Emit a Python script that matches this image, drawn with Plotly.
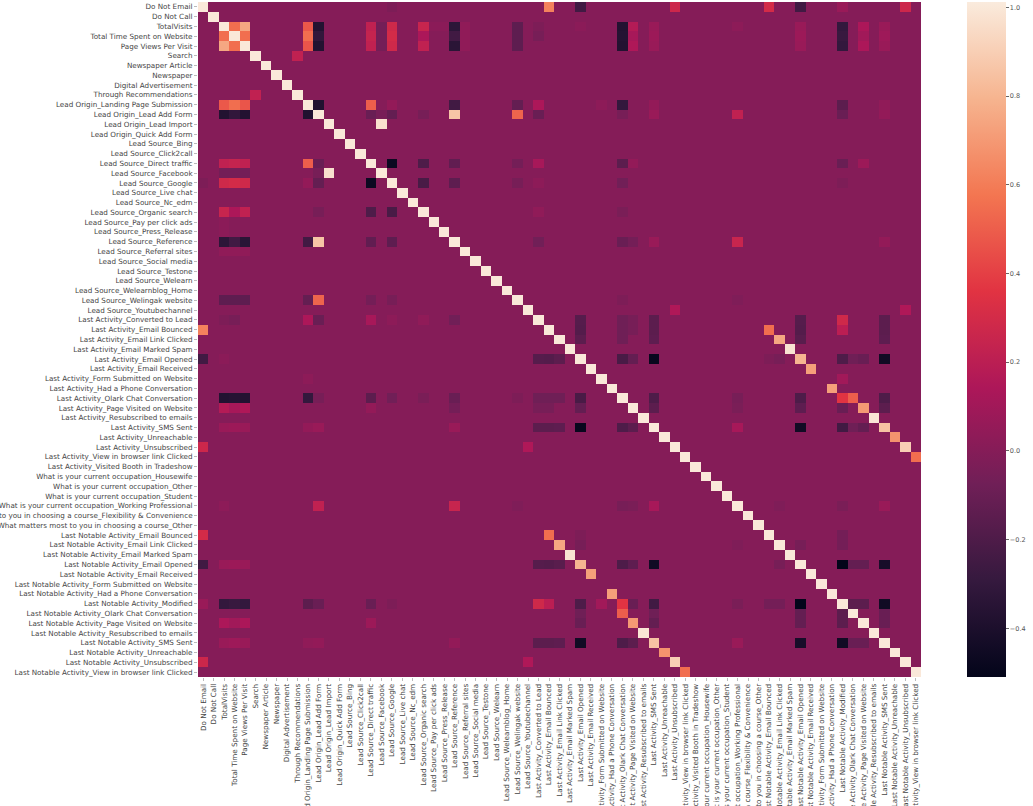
import numpy as np
import plotly.graph_objects as go

labels = [
    "Do Not Email", "Do Not Call", "TotalVisits", "Total Time Spent on Website", "Page Views Per Visit",
    "Search", "Newspaper Article", "Newspaper", "Digital Advertisement", "Through Recommendations",
    "Lead Origin_Landing Page Submission", "Lead Origin_Lead Add Form", "Lead Origin_Lead Import",
    "Lead Origin_Quick Add Form", "Lead Source_Bing", "Lead Source_Click2call", "Lead Source_Direct traffic",
    "Lead Source_Facebook", "Lead Source_Google", "Lead Source_Live chat", "Lead Source_Nc_edm",
    "Lead Source_Organic search", "Lead Source_Pay per click ads", "Lead Source_Press_Release",
    "Lead Source_Reference", "Lead Source_Referral sites", "Lead Source_Social media", "Lead Source_Testone",
    "Lead Source_Welearn", "Lead Source_Welearnblog_Home", "Lead Source_Welingak website",
    "Lead Source_Youtubechannel", "Last Activity_Converted to Lead", "Last Activity_Email Bounced",
    "Last Activity_Email Link Clicked", "Last Activity_Email Marked Spam", "Last Activity_Email Opened",
    "Last Activity_Email Received", "Last Activity_Form Submitted on Website",
    "Last Activity_Had a Phone Conversation", "Last Activity_Olark Chat Conversation",
    "Last Activity_Page Visited on Website", "Last Activity_Resubscribed to emails", "Last Activity_SMS Sent",
    "Last Activity_Unreachable", "Last Activity_Unsubscribed", "Last Activity_View in browser link Clicked",
    "Last Activity_Visited Booth in Tradeshow", "What is your current occupation_Housewife",
    "What is your current occupation_Other", "What is your current occupation_Student",
    "What is your current occupation_Working Professional",
    "What matters most to you in choosing a course_Flexibility & Convenience",
    "What matters most to you in choosing a course_Other", "Last Notable Activity_Email Bounced",
    "Last Notable Activity_Email Link Clicked", "Last Notable Activity_Email Marked Spam",
    "Last Notable Activity_Email Opened", "Last Notable Activity_Email Received",
    "Last Notable Activity_Form Submitted on Website", "Last Notable Activity_Had a Phone Conversation",
    "Last Notable Activity_Modified", "Last Notable Activity_Olark Chat Conversation",
    "Last Notable Activity_Page Visited on Website", "Last Notable Activity_Resubscribed to emails",
    "Last Notable Activity_SMS Sent", "Last Notable Activity_Unreachable", "Last Notable Activity_Unsubscribed",
    "Last Notable Activity_View in browser link Clicked",
]

# (row, column, correlation), lower triangle only
pairs_visits = [
    (3, 2, 0.55), (4, 2, 0.75), (4, 3, 0.55), (9, 5, 0.22),
    (10, 2, 0.48), (10, 3, 0.55), (10, 4, 0.47), (11, 2, -0.37), (11, 3, -0.31), (11, 4, -0.37), (11, 10, -0.38),
    (16, 2, 0.22), (16, 3, 0.24), (16, 4, 0.22), (16, 10, 0.5), (16, 11, -0.1),
    (17, 2, -0.06), (17, 3, -0.06), (17, 4, -0.06), (17, 11, -0.05), (17, 12, 0.97),
    (18, 0, -0.03), (18, 2, 0.28), (18, 3, 0.3), (18, 4, 0.28), (18, 10, 0.05), (18, 11, -0.12), (18, 16, -0.47),
    (21, 2, 0.25), (21, 3, 0.14), (21, 4, 0.22), (21, 11, -0.05), (21, 16, -0.2), (21, 18, -0.22),
    (22, 2, 0.02), (23, 2, 0.02),
    (24, 2, -0.33), (24, 3, -0.25), (24, 4, -0.34), (24, 10, -0.25), (24, 11, 0.86), (24, 16, -0.13), (24, 18, -0.14),
    (25, 2, 0.04), (25, 3, 0.04), (25, 4, 0.04),
    (30, 2, -0.14), (30, 3, -0.14), (30, 4, -0.14), (30, 10, -0.12), (30, 11, 0.52), (30, 16, -0.06), (30, 18, -0.05),
    (32, 2, -0.03), (32, 3, -0.05), (32, 10, 0.14), (32, 11, -0.1), (32, 16, 0.12), (32, 18, 0.03), (32, 21, 0.04), (32, 24, -0.07),
    (33, 0, 0.62),
]
pairs_activity = [
    (36, 0, -0.25), (36, 2, 0.02), (36, 32, -0.17), (36, 33, -0.18), (36, 34, -0.15),
    (38, 10, 0.03),
    (40, 2, -0.37), (40, 3, -0.36), (40, 4, -0.37), (40, 10, -0.3), (40, 11, -0.05), (40, 16, -0.15), (40, 18, -0.07),
    (40, 21, -0.04), (40, 24, -0.1), (40, 30, -0.03), (40, 32, -0.08), (40, 33, -0.08), (40, 34, -0.08), (40, 36, -0.22),
    (41, 2, 0.17), (41, 3, 0.12), (41, 4, 0.15), (41, 16, 0.05), (41, 24, -0.06), (41, 32, -0.05), (41, 33, -0.05), (41, 36, -0.12),
    (43, 2, 0.07), (43, 3, 0.08), (43, 4, 0.07), (43, 10, 0.05), (43, 11, 0.07), (43, 24, 0.07), (43, 32, -0.15), (43, 33, -0.15),
    (43, 34, -0.14), (43, 36, -0.49), (43, 40, -0.2), (43, 41, -0.15),
    (45, 0, 0.27), (45, 31, 0.15),
    (51, 2, 0.03), (51, 11, 0.22), (51, 24, 0.25), (51, 30, -0.02), (51, 40, -0.05), (51, 43, 0.12), (51, 41, -0.04),
    (54, 0, 0.3), (54, 33, 0.55), (54, 36, -0.03),
    (55, 34, 0.75), (55, 36, -0.05), (55, 51, -0.02),
    (56, 35, 0.98),
    (57, 0, -0.25), (57, 2, 0.07), (57, 3, 0.08), (57, 4, 0.07), (57, 32, -0.17), (57, 33, -0.18), (57, 34, -0.16), (57, 36, 0.8),
    (57, 40, -0.2), (57, 41, -0.14), (57, 43, -0.45), (57, 55, -0.05),
    (58, 37, 0.72), (60, 39, 0.72),
]
pairs_notable = [
    (61, 0, 0.07), (61, 2, -0.3), (61, 3, -0.28), (61, 4, -0.3), (61, 10, -0.15), (61, 11, -0.1), (61, 16, -0.1), (61, 18, -0.03),
    (61, 32, 0.28), (61, 33, 0.2), (61, 36, -0.2), (61, 38, 0.1), (61, 40, 0.36), (61, 41, -0.1), (61, 43, -0.25), (61, 51, -0.04),
    (61, 54, -0.06), (61, 55, -0.06), (61, 57, -0.51),
    (62, 36, -0.08), (62, 40, 0.5), (62, 43, -0.08), (62, 57, -0.12), (62, 61, -0.15),
    (63, 2, 0.14), (63, 3, 0.1), (63, 4, 0.14), (63, 16, 0.08), (63, 36, -0.1), (63, 41, 0.7), (63, 43, -0.12), (63, 57, -0.12), (63, 61, -0.15),
    (64, 42, 0.99),
    (65, 2, 0.07), (65, 3, 0.09), (65, 4, 0.07), (65, 10, 0.04), (65, 11, 0.05), (65, 24, 0.05), (65, 32, -0.15), (65, 33, -0.15),
    (65, 34, -0.14), (65, 36, -0.45), (65, 40, -0.2), (65, 41, -0.15), (65, 43, 0.85), (65, 51, 0.07), (65, 57, -0.42), (65, 61, -0.45), (65, 62, -0.1), (65, 63, -0.1),
    (66, 44, 0.68), (67, 0, 0.27), (67, 31, 0.15), (67, 45, 0.9), (68, 46, 0.55),
]

rocket_colors = ["#03051a", "#35193e", "#701f57", "#ad1759", "#e13342", "#f37651", "#f6b48f", "#faebdd"]

n = len(labels)
corr = np.eye(n)
for r, c, v in pairs_visits + pairs_activity + pairs_notable:
    corr[r, c] = v
    corr[c, r] = v
idx = list(range(n))

fig = go.Figure(go.Heatmap(
    z=corr, x=idx, y=idx, zmin=-0.51, zmax=1.012,
    colorscale=[[i / 7, col] for i, col in enumerate(rocket_colors)],
    colorbar=dict(
        thickness=39, thicknessmode="pixels", len=675, lenmode="pixels",
        x=1.063, xanchor="left", y=1, yanchor="top", outlinewidth=0, xpad=0, ypad=0,
        tickvals=[-0.4, -0.2, 0.0, 0.2, 0.4, 0.6, 0.8, 1.0], tickformat=".1f",
        ticks="outside", ticklen=3, tickcolor="#666", tickwidth=0.6,
        tickfont=dict(family="DejaVu Sans", size=6.5, color="#555"),
    ),
))
tick_style = dict(family="DejaVu Sans", size=7.2, color="#444")
fig.update_xaxes(tickmode="array", tickvals=idx, ticktext=labels, tickangle=-90, tickfont=tick_style,
                 range=[-0.5, n - 0.5], showgrid=False, zeroline=False, ticks="outside", ticklen=3,
                 tickwidth=0.5, tickcolor="#bbb", automargin=False)
fig.update_yaxes(tickmode="array", tickvals=idx, ticktext=labels, tickfont=tick_style,
                 range=[n - 0.5, -0.5], showgrid=False, zeroline=False, ticks="outside", ticklen=3,
                 tickwidth=0.5, tickcolor="#bbb", automargin=False)
fig.update_layout(width=1033, height=806, autosize=False, paper_bgcolor="white", plot_bgcolor="white",
                  margin=dict(l=198, r=112, t=2, b=129, pad=0, autoexpand=False))
fig.write_html("out.html", config={"displayModeBar": False},
               post_script="document.body.style.margin='0';document.documentElement.style.overflow='hidden';")
